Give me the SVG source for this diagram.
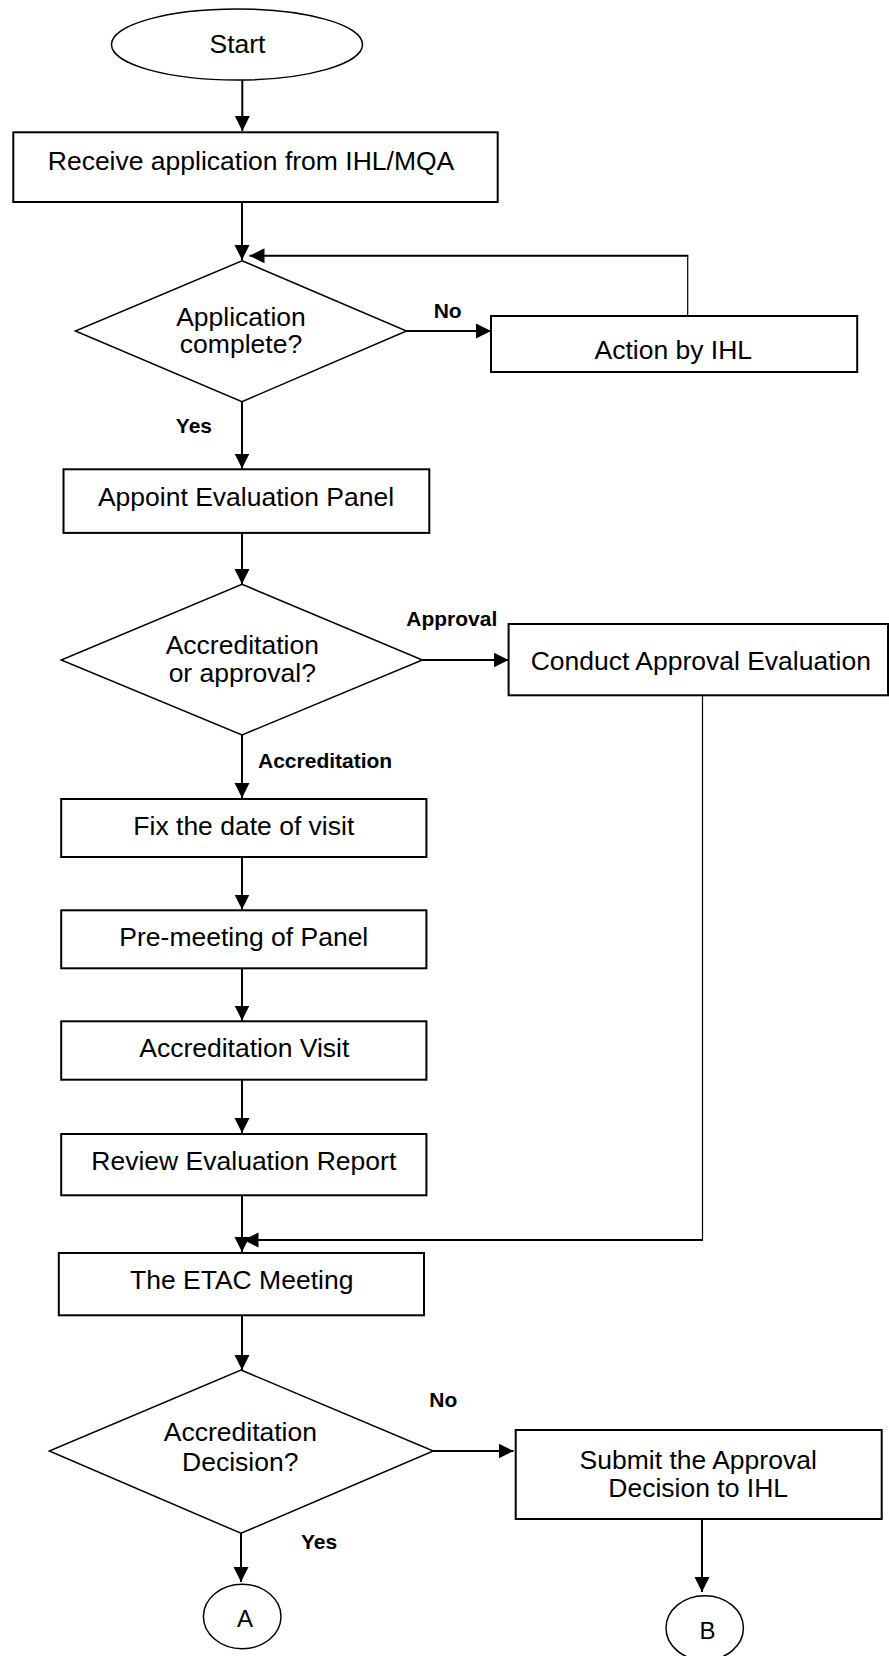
<svg xmlns="http://www.w3.org/2000/svg" width="889" height="1656" viewBox="0 0 889 1656">
<style>
.box{fill:#fff;stroke:#000;stroke-width:2}
.shape{fill:#fff;stroke:#000;stroke-width:1.5}
.t{font-family:"Liberation Sans",Arial,sans-serif;font-size:26.5px;fill:#000;text-anchor:middle}
.lbl{font-family:"Liberation Sans",Arial,sans-serif;font-size:21px;font-weight:bold;fill:#000}
.c{fill:none;stroke:#000;stroke-width:2}
.thin{fill:none;stroke:#000;stroke-width:1.2}
</style>
<defs>
<marker id="ah" markerUnits="userSpaceOnUse" markerWidth="16" markerHeight="16" refX="15" refY="8" orient="auto">
<path d="M0,0.5 L15,8 L0,15.5 z" fill="#000"/>
</marker>
</defs>
<rect x="0" y="0" width="889" height="1656" fill="#fff"/>

<g id="connectors">
<line class="c" x1="242.3" y1="80" x2="242.3" y2="131" marker-end="url(#ah)"/>
<line class="c" x1="242" y1="202" x2="242" y2="260" marker-end="url(#ah)"/>
<line class="thin" x1="687.7" y1="316" x2="687.7" y2="255.7"/>
<line class="c" x1="688.3" y1="255.7" x2="249.5" y2="255.7" marker-end="url(#ah)"/>
<line class="c" x1="406.5" y1="331" x2="491" y2="331" marker-end="url(#ah)"/>
<line class="c" x1="242" y1="401.7" x2="242" y2="468.5" marker-end="url(#ah)"/>
<line class="c" x1="242" y1="532.7" x2="242" y2="584" marker-end="url(#ah)"/>
<line class="c" x1="422.4" y1="660" x2="508.6" y2="660" marker-end="url(#ah)"/>
<line class="c" x1="242" y1="735" x2="242" y2="798" marker-end="url(#ah)"/>
<line class="c" x1="242" y1="857" x2="242" y2="909.5" marker-end="url(#ah)"/>
<line class="c" x1="242" y1="968.3" x2="242" y2="1020.5" marker-end="url(#ah)"/>
<line class="c" x1="242" y1="1079.7" x2="242" y2="1133" marker-end="url(#ah)"/>
<line class="c" x1="242" y1="1195.3" x2="242" y2="1252" marker-end="url(#ah)"/>
<line class="thin" x1="702.5" y1="695.3" x2="702.5" y2="1240"/>
<line class="c" x1="703" y1="1240" x2="243.5" y2="1240" marker-end="url(#ah)"/>
<line class="c" x1="242" y1="1315.3" x2="242" y2="1370" marker-end="url(#ah)"/>
<line class="c" x1="425.2" y1="1451" x2="513.5" y2="1451" marker-end="url(#ah)"/>
<line class="c" x1="241" y1="1533.3" x2="241" y2="1582" marker-end="url(#ah)"/>
<line class="c" x1="702" y1="1519" x2="702" y2="1592" marker-end="url(#ah)"/>
<text class="lbl" x="433.7" y="318">No</text>
<text class="lbl" x="175.8" y="433.3">Yes</text>
<text class="lbl" x="406.3" y="626">Approval</text>
<text class="lbl" x="258" y="768.3">Accreditation</text>
<text class="lbl" x="429.3" y="1407">No</text>
<text class="lbl" x="301" y="1549.3">Yes</text>
</g>

<g id="start">
<ellipse class="shape" cx="237" cy="44.5" rx="125.5" ry="35.5"/>
<text class="t" x="237.5" y="53">Start</text>
</g>
<g id="receive">
<rect class="box" x="13.3" y="132.3" width="484.4" height="69.7"/>
<text class="t" x="251" y="170">Receive application from IHL/MQA</text>
</g>
<g id="complete">
<polygon class="shape" points="242,260.7 406.5,331 242,401.7 75.4,331"/>
<text class="t" x="241" y="326">Application</text>
<text class="t" x="241" y="353">complete?</text>
</g>
<g id="action">
<rect class="box" x="491" y="316" width="366.2" height="56"/>
<text class="t" x="673.3" y="359">Action by IHL</text>
</g>
<g id="appoint">
<rect class="box" x="63.5" y="469.3" width="365.8" height="63.6"/>
<text class="t" x="246" y="505.5">Appoint Evaluation Panel</text>
</g>
<g id="accorappr">
<polygon class="shape" points="242,584.3 422.4,660 242,735 61.2,660"/>
<text class="t" x="242.3" y="654">Accreditation</text>
<text class="t" x="242.3" y="681.5">or approval?</text>
</g>
<g id="conduct">
<rect class="box" x="508.6" y="624" width="379.4" height="71.3"/>
<text class="t" x="700.8" y="670">Conduct Approval Evaluation</text>
</g>
<g id="fix">
<rect class="box" x="61.2" y="799" width="365.2" height="58"/>
<text class="t" x="243.8" y="835">Fix the date of visit</text>
</g>
<g id="premeeting">
<rect class="box" x="61.2" y="910.3" width="365.2" height="58"/>
<text class="t" x="243.8" y="946">Pre-meeting of Panel</text>
</g>
<g id="visit">
<rect class="box" x="61.2" y="1021.3" width="365.2" height="58.4"/>
<text class="t" x="244.3" y="1057">Accreditation Visit</text>
</g>
<g id="review">
<rect class="box" x="61.2" y="1134" width="365.2" height="61.3"/>
<text class="t" x="243.8" y="1170">Review Evaluation Report</text>
</g>
<g id="etac">
<rect class="box" x="58.8" y="1253" width="365.2" height="62.3"/>
<text class="t" x="241.7" y="1289.3">The ETAC Meeting</text>
</g>
<g id="decision">
<polygon class="shape" points="241,1370 433.3,1451 241,1533.3 49.3,1451"/>
<text class="t" x="240.4" y="1440.5">Accreditation</text>
<text class="t" x="240.2" y="1470.5">Decision?</text>
</g>
<g id="submit">
<rect class="box" x="515.7" y="1430" width="366" height="89"/>
<text class="t" x="698.2" y="1469.3">Submit the Approval</text>
<text class="t" x="698.2" y="1497.3">Decision to IHL</text>
</g>
<g id="connA">
<ellipse class="shape" cx="242.2" cy="1616.5" rx="38.8" ry="32.2"/>
<text class="t" x="245" y="1626.5" style="font-size:24px">A</text>
</g>
<g id="connB">
<ellipse class="shape" cx="704.7" cy="1628" rx="38.7" ry="32.3"/>
<text class="t" x="707.5" y="1638.5" style="font-size:24px">B</text>
</g>
</svg>
